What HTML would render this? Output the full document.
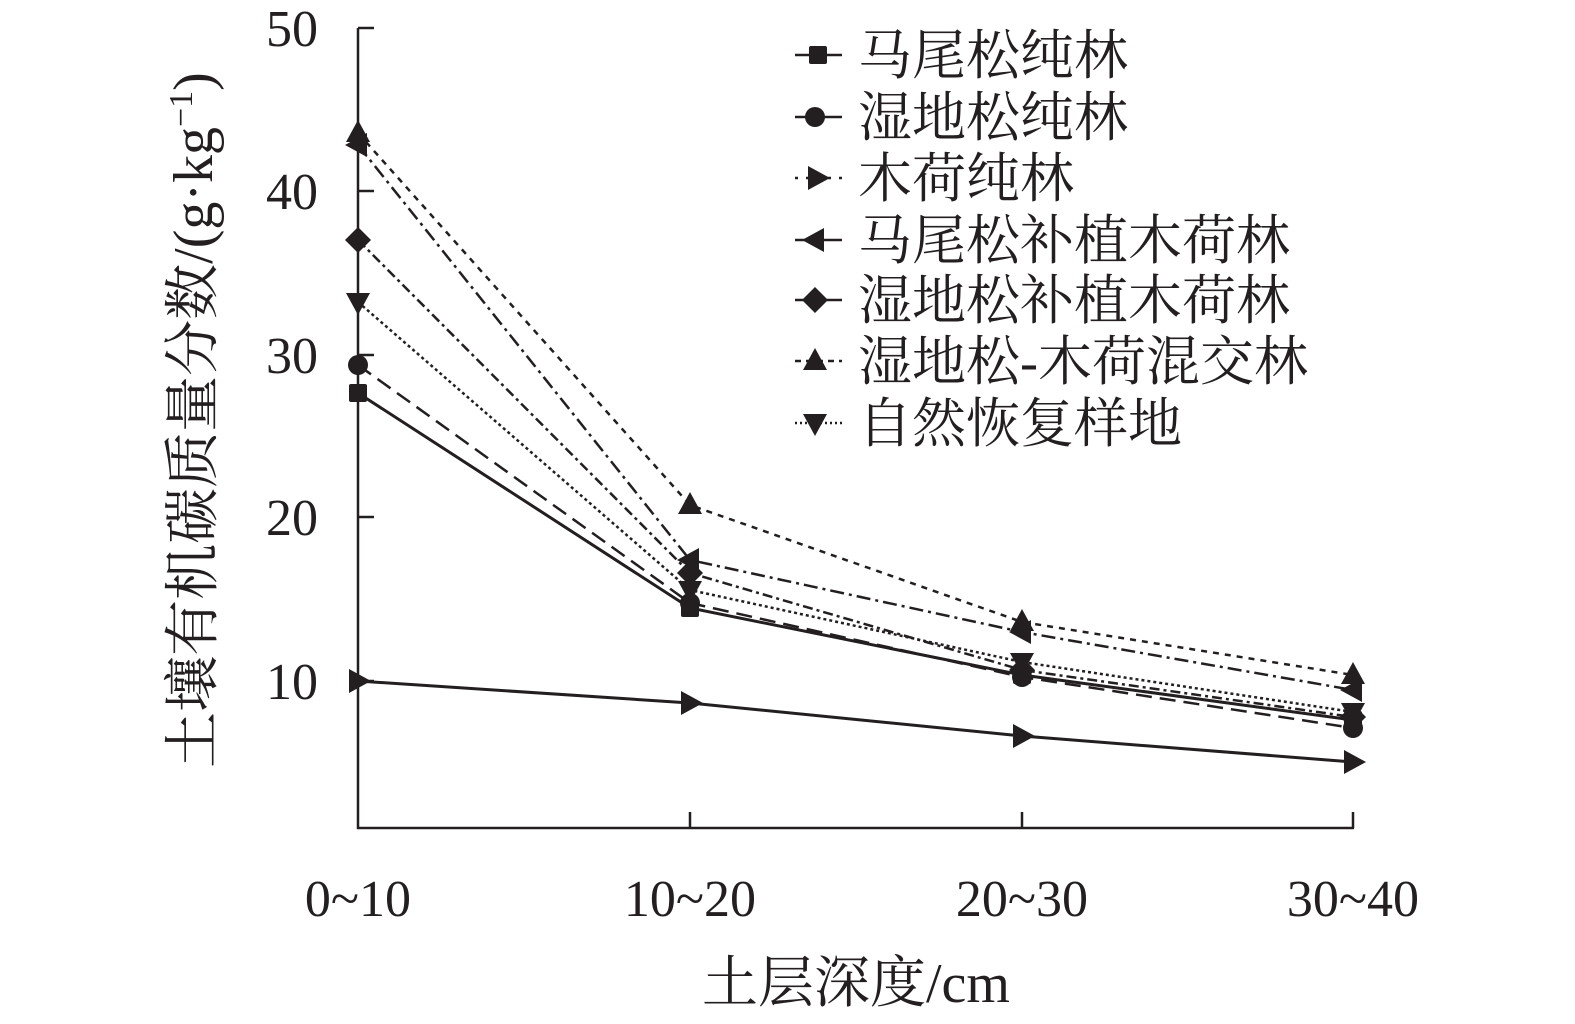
<!DOCTYPE html>
<html><head><meta charset="utf-8"><style>
html,body{margin:0;padding:0;background:#fff;}
svg{display:block;}
text{font-family:"Liberation Serif","Noto Serif CJK SC",serif;fill:#231f20;}
</style></head><body>
<svg width="1575" height="1024" viewBox="0 0 1575 1024" xmlns="http://www.w3.org/2000/svg">
<defs>
<rect id="sq" x="-9" y="-9" width="18" height="18" rx="2" fill="#231f20"/>
<circle id="ci" r="10" fill="#231f20"/>
<path id="tr" d="M-9,-12 L13,0 L-9,12 Z" fill="#231f20"/>
<path id="tl" d="M9,-12 L-13,0 L9,12 Z" fill="#231f20"/>
<path id="di" d="M0,-13 L13,0 L0,13 L-13,0 Z" fill="#231f20"/>
<path id="tu" d="M0,-13 L12,9 L-12,9 Z" fill="#231f20"/>
<path id="td" d="M0,13 L12,-9 L-12,-9 Z" fill="#231f20"/>
</defs>
<g stroke="#231f20" stroke-width="2.5" fill="none">
<line x1="358" y1="28" x2="358" y2="829"/>
<line x1="357" y1="828" x2="1354" y2="828"/>
<line x1="358" y1="28" x2="374" y2="28"/>
<line x1="358" y1="191" x2="374" y2="191"/>
<line x1="358" y1="355" x2="374" y2="355"/>
<line x1="358" y1="517" x2="374" y2="517"/>
<line x1="358" y1="681" x2="374" y2="681"/>
<line x1="690" y1="812" x2="690" y2="828"/>
<line x1="1022" y1="812" x2="1022" y2="828"/>
<line x1="1353" y1="812" x2="1353" y2="828"/>
</g>
<g font-size="52" text-anchor="end">
<text x="318" y="46">50</text>
<text x="318" y="209">40</text>
<text x="318" y="373">30</text>
<text x="318" y="535">20</text>
<text x="318" y="699">10</text>
</g>
<g font-size="52" text-anchor="middle">
<text x="358" y="916">0~10</text>
<text x="690" y="916">10~20</text>
<text x="1022" y="916">20~30</text>
<text x="1353" y="916">30~40</text>
</g>
<text x="856" y="1002" font-size="56" text-anchor="middle">土层深度/cm</text>
<text font-size="56" text-anchor="middle" transform="translate(212,420) rotate(-90)">土壤有机碳质量分数/(g·kg<tspan font-size="34" dy="-20">−1</tspan><tspan dy="20">)</tspan></text>

<g fill="none" stroke="#231f20">
<polyline stroke-width="3" points="358,393 690,608 1022,675 1353,720"/>
<polyline stroke-width="2.5" stroke-dasharray="16,8" points="358,365 690,603 1022,677 1353,728"/>
<polyline stroke-width="3" points="358,681 690,703 1022,736 1353,762"/>
<polyline stroke-width="2.5" stroke-dasharray="14,5,3,5" points="358,145 690,560 1022,632 1353,690"/>
<polyline stroke-width="2.5" stroke-dasharray="10,4,3,4" points="358,240 690,573 1022,670 1353,717"/>
<polyline stroke-width="2.5" stroke-dasharray="6,6" points="358,133 690,505 1022,622 1353,675"/>
<polyline stroke-width="2.5" stroke-dasharray="3,3" points="358,302 690,590 1022,662 1353,712"/>
</g>
<g>
<use href="#sq" x="358" y="393"/><use href="#sq" x="690" y="608"/><use href="#sq" x="1022" y="675"/><use href="#sq" x="1353" y="720"/>
<use href="#ci" x="358" y="365"/><use href="#ci" x="690" y="603"/><use href="#ci" x="1022" y="677"/><use href="#ci" x="1353" y="728"/>
<use href="#tr" x="358" y="681"/><use href="#tr" x="690" y="703"/><use href="#tr" x="1022" y="736"/><use href="#tr" x="1353" y="762"/>
<use href="#tl" x="358" y="145"/><use href="#tl" x="690" y="560"/><use href="#tl" x="1022" y="632"/><use href="#tl" x="1353" y="690"/>
<use href="#di" x="358" y="240"/><use href="#di" x="690" y="573"/><use href="#di" x="1022" y="670"/><use href="#di" x="1353" y="717"/>
<use href="#tu" x="358" y="133"/><use href="#tu" x="690" y="505"/><use href="#tu" x="1022" y="622"/><use href="#tu" x="1353" y="675"/>
<use href="#td" x="358" y="302"/><use href="#td" x="690" y="590"/><use href="#td" x="1022" y="662"/><use href="#td" x="1353" y="712"/>
</g>

<g fill="none" stroke="#231f20" stroke-width="2.5">
<line x1="795" y1="55" x2="842" y2="55"/>
<line x1="795" y1="117" x2="842" y2="117"/>
<line x1="795" y1="178" x2="842" y2="178" stroke-dasharray="3,8"/>
<line x1="795" y1="240" x2="842" y2="240"/>
<line x1="795" y1="300" x2="842" y2="300"/>
<line x1="795" y1="361" x2="842" y2="361" stroke-dasharray="6,5"/>
<line x1="795" y1="423" x2="842" y2="423" stroke-dasharray="2,3"/>
</g>
<use href="#sq" x="818" y="55"/>
<use href="#ci" x="815" y="117"/>
<use href="#tr" x="817" y="178"/>
<use href="#tl" x="815" y="240"/>
<use href="#di" x="815" y="300"/>
<use href="#tu" x="815" y="361"/>
<use href="#td" x="815" y="423"/>
<g font-size="54">
<text x="858" y="74">马尾松纯林</text>
<text x="858" y="136">湿地松纯林</text>
<text x="858" y="197">木荷纯林</text>
<text x="858" y="259">马尾松补植木荷林</text>
<text x="858" y="319">湿地松补植木荷林</text>
<text x="858" y="380">湿地松-木荷混交林</text>
<text x="858" y="442">自然恢复样地</text>
</g>
</svg>
</body></html>
